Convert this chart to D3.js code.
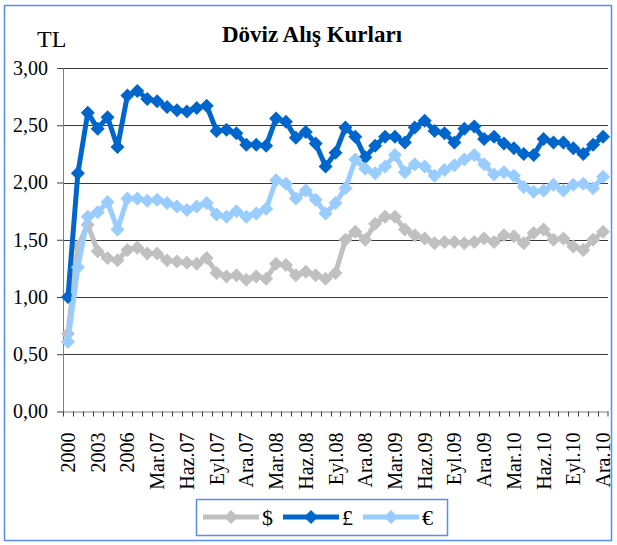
<!DOCTYPE html>
<html>
<head>
<meta charset="utf-8">
<script src="https://cdn.jsdelivr.net/npm/d3@7"></script>
<style>
  body { margin: 0; background: #fff; }
  svg text { font-family: "Liberation Serif", "Times New Roman", serif; fill: #000; }
</style>
</head>
<body>
<div id="chart"></div>
<script>
// kategoriler: 2000-2006 yillik, sonra 2007-2010 aylik
let years = ["2000", "2001", "2002", "2003", "2004", "2005", "2006"]
let months = ["Oca", "Şub", "Mar", "Nis", "May", "Haz", "Tem", "Ağu", "Eyl", "Eki", "Kas", "Ara"]
let categories = years.concat(
    ["07", "08", "09", "10"].flatMap(yy => months.map(m => m + "." + yy))
)

let usd = [0.68, 1.44, 1.63, 1.40, 1.34, 1.32, 1.41, 1.43, 1.38, 1.38, 1.32, 1.31, 1.30, 1.29,
           1.34, 1.21, 1.18, 1.19, 1.15, 1.18, 1.16, 1.29, 1.28, 1.19, 1.22, 1.19, 1.16, 1.21,
           1.50, 1.57, 1.50, 1.64, 1.70, 1.70, 1.59, 1.54, 1.51, 1.47, 1.48, 1.48, 1.47, 1.48,
           1.51, 1.48, 1.54, 1.53, 1.47, 1.56, 1.59, 1.50, 1.51, 1.44, 1.41, 1.50, 1.57]
let gbp = [1.00, 2.08, 2.61, 2.47, 2.57, 2.31, 2.76, 2.80, 2.73, 2.71, 2.66, 2.63, 2.62, 2.65,
           2.67, 2.45, 2.46, 2.43, 2.33, 2.33, 2.32, 2.56, 2.53, 2.39, 2.44, 2.34, 2.14, 2.26,
           2.48, 2.40, 2.22, 2.32, 2.40, 2.40, 2.35, 2.48, 2.54, 2.45, 2.43, 2.35, 2.47, 2.49,
           2.38, 2.40, 2.34, 2.30, 2.25, 2.24, 2.38, 2.35, 2.35, 2.30, 2.25, 2.33, 2.40]
let eur = [0.61, 1.26, 1.70, 1.74, 1.83, 1.59, 1.86, 1.86, 1.84, 1.85, 1.82, 1.79, 1.76, 1.79,
           1.82, 1.72, 1.70, 1.75, 1.70, 1.73, 1.77, 2.02, 1.99, 1.86, 1.93, 1.85, 1.73, 1.82,
           1.95, 2.20, 2.12, 2.08, 2.14, 2.24, 2.09, 2.16, 2.14, 2.06, 2.11, 2.15, 2.20, 2.24,
           2.16, 2.07, 2.09, 2.06, 1.96, 1.92, 1.93, 1.98, 1.93, 1.98, 1.99, 1.95, 2.05]

let yTicks = [0, 0.5, 1, 1.5, 2, 2.5, 3]

let series = [
    {name: "$", values: usd, color: "#c0c0c0"},
    {name: "£", values: gbp, color: "#0066cc"},
    {name: "€", values: eur, color: "#99ccff"}
]

let width = 617, height = 545
let margin = ({top: 68, right: 9, bottom: 134, left: 63})

let svg = d3.select("#chart").append("svg")
    .attr("width", width)
    .attr("height", height)

// dis cerceve
svg.append("rect")
    .attr("x", 4.5).attr("y", 5.5)
    .attr("width", 607).attr("height", 535)
    .attr("fill", "none")
    .attr("stroke", "#5a8cf5")
    .attr("stroke-width", 1.5)

let x = d3.scaleBand()
    .domain(categories)
    .range([margin.left, width - margin.right])

let y = d3.scaleLinear()
    .domain([0, 3])
    .range([height - margin.bottom + 0.5, margin.top])

// grid
svg.append("g")
    .selectAll("line")
    .data(yTicks.filter(d => d > 0))
    .join("line")
    .attr("x1", margin.left)
    .attr("x2", width - margin.right)
    .attr("y1", d => Math.round(y(d)) + 0.5)
    .attr("y2", d => Math.round(y(d)) + 0.5)
    .attr("stroke", "#3a3a3a")
    .attr("stroke-width", 1)

// y ekseni
let yAxis = g => g
    .attr("transform", `translate(${margin.left},0)`)
    .call(d3.axisLeft(y)
        .tickValues(yTicks)
        .tickFormat(d => d3.format(".2f")(d).replace(".", ","))
        .tickSize(6)
        .tickPadding(9)
        .tickSizeOuter(0))
    .call(g => g.select(".domain").attr("stroke", "#808080"))
    .call(g => g.selectAll(".tick line").attr("stroke", "#404040"))
    .call(g => g.selectAll(".tick text")
        .attr("font-size", 20))

svg.append("g").call(yAxis)

// x ekseni
let xLabels = categories.filter((d, i) => i % 3 === 0)
let xAxis = g => g
    .attr("transform", `translate(0,${y(0)})`)
    .call(d3.axisBottom(x)
        .tickValues(xLabels)
        .tickSize(0)
        .tickSizeOuter(0))
    .call(g => g.select(".domain").attr("stroke", "#808080"))
    .call(g => g.selectAll(".tick text")
        .attr("font-size", 20)
        .attr("text-anchor", "end")
        .attr("transform", "translate(0,21) rotate(-90)")
        .attr("x", 0)
        .attr("y", 0)
        .attr("dy", "0.35em"))

svg.append("g").call(xAxis)

// kategori sinir isaretleri
svg.append("g")
    .selectAll("line")
    .data(categories.concat(["end"]))
    .join("line")
    .attr("x1", d => d === "end" ? x.range()[1] : Math.round(x(d)) + 0.5)
    .attr("x2", d => d === "end" ? x.range()[1] : Math.round(x(d)) + 0.5)
    .attr("y1", y(0))
    .attr("y2", y(0) + 5)
    .attr("stroke", "#404040")

// seriler
let line = d3.line()
    .x((d, i) => x(categories[i]) + x.bandwidth() / 2)
    .y(d => y(d))

let diamond = "M0,-7L7,0L0,7L-7,0Z"

for (let s of series) {
    let g = svg.append("g")
    g.append("path")
        .datum(s.values)
        .attr("fill", "none")
        .attr("stroke", s.color)
        .attr("stroke-width", 5)
        .attr("stroke-linejoin", "round")
        .attr("d", line)
    g.selectAll("path.m")
        .data(s.values)
        .join("path")
        .attr("class", "m")
        .attr("d", diamond)
        .attr("fill", s.color)
        .attr("transform", (d, i) => `translate(${x(categories[i]) + x.bandwidth() / 2},${y(d)})`)
}

// basliklar
svg.append("text")
    .attr("x", 312)
    .attr("y", 42)
    .attr("text-anchor", "middle")
    .attr("font-size", 23)
    .attr("font-weight", "bold")
    .text("Döviz Alış Kurları")

svg.append("text")
    .attr("x", 37)
    .attr("y", 47)
    .attr("font-size", 24)
    .text("TL")

// lejant
let legend = svg.append("g")
legend.append("rect")
    .attr("x", 196.5).attr("y", 499.5)
    .attr("width", 251).attr("height", 36)
    .attr("fill", "#fff")
    .attr("stroke", "#5a8cf5")
    .attr("stroke-width", 1.5)

let lx = d3.scaleBand()
    .domain(series.map(d => d.name))
    .range([203, 443])

let item = legend.selectAll("g")
    .data(series)
    .join("g")
    .attr("transform", d => `translate(${lx(d.name)},517)`)

item.append("line")
    .attr("x1", 0).attr("x2", 56)
    .attr("stroke", d => d.color)
    .attr("stroke-width", 5)
item.append("path")
    .attr("d", diamond)
    .attr("transform", "translate(28,0)")
    .attr("fill", d => d.color)
item.append("text")
    .attr("x", 59)
    .attr("dy", "0.35em")
    .attr("font-size", 22)
    .text(d => d.name)
</script>
</body>
</html>
